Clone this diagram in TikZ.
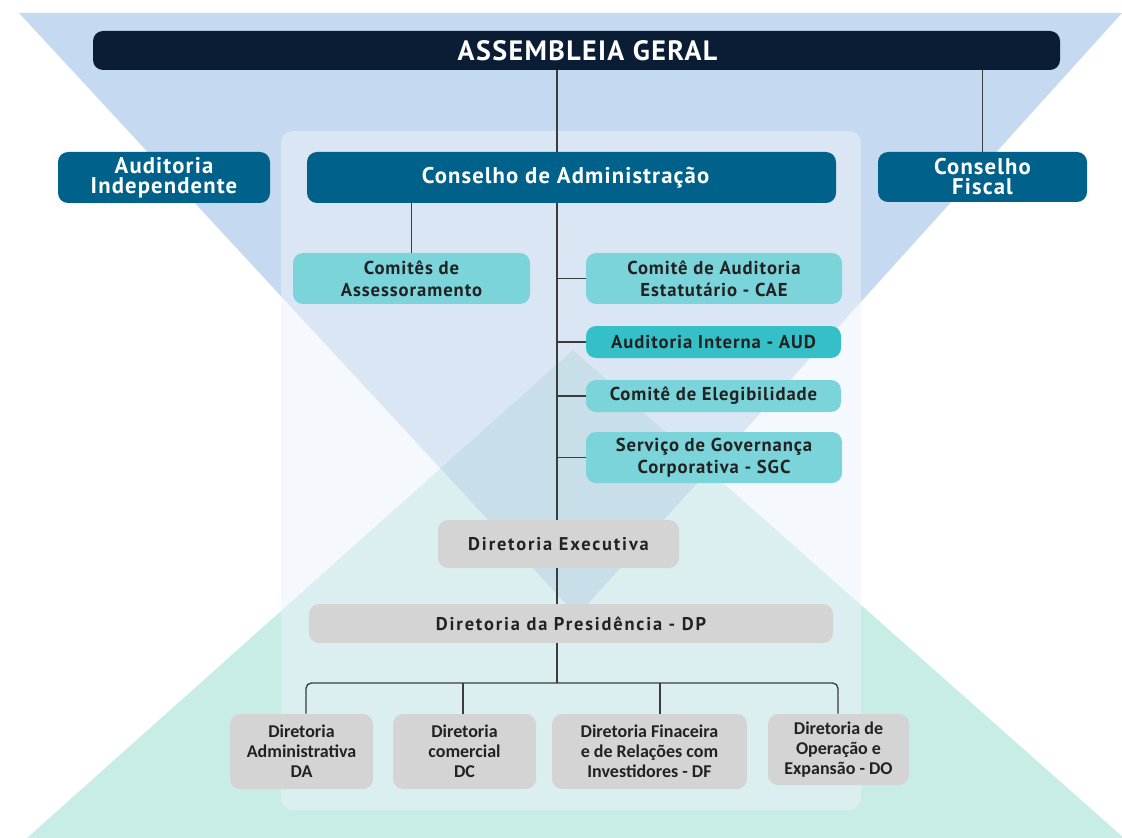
\documentclass[tikz,border=0pt]{standalone}
\usepackage{fontspec}
\setmainfont[LetterSpace=5]{PT Sans}
\newfontfamily\greyfont[LetterSpace=10]{PT Sans}
\newfontfamily\condfont{Carlito}
\definecolor{bgblue}{HTML}{C5D9F0}
\definecolor{bggreen}{HTML}{C8EDE6}
\definecolor{overlapc}{HTML}{C8DFEA}
\definecolor{panelc}{HTML}{EDF2F9}
\definecolor{navy}{HTML}{0B1D35}
\definecolor{deepteal}{HTML}{00628B}
\definecolor{lightteal}{HTML}{7AD4DA}
\definecolor{midteal}{HTML}{35C0C7}
\definecolor{graybox}{HTML}{D4D4D4}
\definecolor{darktext}{HTML}{222222}
\definecolor{linec}{HTML}{3C3C3C}
\tikzset{
  box/.style={rounded corners=7.5pt, inner sep=0pt, align=center, draw=none},
  navybox/.style={box, fill=navy, text=white, font=\fontsize{21pt}{21pt}\selectfont\bfseries},
  bluebox/.style={box, fill=deepteal, text=white, font=\fontsize{17pt}{15pt}\selectfont\bfseries},
  tealbox/.style={box, fill=lightteal, text=darktext, font=\fontsize{14pt}{16.5pt}\selectfont\bfseries},
  audbox/.style={box, fill=midteal, text=darktext, font=\fontsize{14pt}{16.5pt}\selectfont\bfseries},
  greybox/.style={box, fill=graybox, text=darktext, font=\greyfont\fontsize{13.8pt}{16.5pt}\selectfont\bfseries},
  smallgrey/.style={box, fill=graybox, text=darktext, font=\condfont\fontsize{13.5pt}{15pt}\selectfont\bfseries},
  conn/.style={draw=linec, line width=1pt}
}
\begin{document}
\begin{tikzpicture}[x=0.75pt,y=-0.75pt]
\useasboundingbox (0,0) rectangle (1122,838);
\begin{scope}
\clip (0,0) rectangle (1122,838);
\fill[bgblue] (19,13) -- (1122,13) -- (577,616) -- cycle;
\fill[bggreen] (573,350) -- (1124,838) -- (27,838) -- cycle;
\fill[panelc, fill opacity=0.55, rounded corners=9pt] (281,131) rectangle (861,810);
\begin{scope}
\clip (19,13) -- (1122,13) -- (577,616) -- cycle;
\fill[overlapc] (573,350) -- (1124,838) -- (27,838) -- cycle;
\end{scope}
\end{scope}

\coordinate (spine) at (557,0);
\coordinate (xa) at (306,0);
\coordinate (xc) at (463,0);
\coordinate (xf) at (660,0);
\coordinate (xo) at (838,0);
\coordinate (bus) at (557,683);

\node[navybox, minimum width=725.25pt, minimum height=29.25pt] (ag) at (576.5,50.5) {\hspace*{16.5pt}ASSEMBLEIA GERAL};
\node[bluebox, minimum width=159pt, minimum height=38.25pt] (ai) at (164,177.5) {Auditoria\\Independente};
\node[bluebox, minimum width=396.75pt, minimum height=38.25pt] (ca) at (571.5,177.5) {Conselho de Administração\hspace*{9pt}};
\node[bluebox, minimum width=156.75pt, minimum height=37.5pt] (cf) at (982.5,177) {Conselho\\Fiscal};

\node[tealbox, minimum width=177.75pt, minimum height=38.25pt] (cas) at (411.5,278.5) {Comitês de\\Assessoramento};
\node[tealbox, minimum width=192pt, minimum height=38.25pt] (cae) at (714,278.5) {Comitê de Auditoria\\Estatutário - CAE};
\node[audbox, minimum width=191.25pt, minimum height=24pt] (aud) at (713.5,342) {Auditoria Interna - AUD};
\node[tealbox, minimum width=191.25pt, minimum height=24pt] (ce) at (713.5,396) {Comitê de Elegibilidade};
\node[tealbox, minimum width=192pt, minimum height=38.25pt] (sgc) at (714,457.5) {Serviço de Governança\\Corporativa - SGC};

\node[greybox, minimum width=180.75pt, minimum height=36pt] (de) at (558.5,544) {Diretoria Executiva};
\node[greybox, minimum width=393pt, minimum height=29.25pt] (dp) at (571,623.5) {Diretoria da Presidência - DP};

\node[smallgrey, minimum width=107.25pt, minimum height=56.25pt] (da) at (301.5,751.5) {Diretoria\\Administrativa\\DA};
\node[smallgrey, minimum width=107.25pt, minimum height=56.25pt] (dc) at (464.5,751.5) {Diretoria\\comercial\\DC};
\node[smallgrey, minimum width=146.25pt, minimum height=56.25pt] (df) at (649.5,751.5) {Diretoria Finaceira\\e de Relações com\\Investidores - DF};
\node[smallgrey, minimum width=105.75pt, minimum height=53.25pt] (ddo) at (838.5,749.5) {Diretoria de\\Operação e\\Expansão - DO};

\draw[conn] (ag.south -| spine) -- (ca.north -| spine);
\draw[conn] (ag.south -| cf.north) -- (cf.north);
\draw[conn] (ca.south -| cas.north) -- (cas.north);
\draw[conn] (ca.south -| spine) -- (de.north -| spine);
\draw[conn] (cae.west -| spine) -- (cae.west);
\draw[conn] (aud.west -| spine) -- (aud.west);
\draw[conn] (ce.west -| spine) -- (ce.west);
\draw[conn] (sgc.west -| spine) -- (sgc.west);
\draw[conn] (de.south -| spine) -- (dp.north -| spine);
\draw[conn] (dp.south -| spine) -- (bus);
\draw[conn, rounded corners=4pt] (da.north -| xa) |- (bus -| xo) -- (ddo.north -| xo);
\draw[conn] (bus -| xc) -- (dc.north -| xc);
\draw[conn] (bus -| xf) -- (df.north -| xf);
\end{tikzpicture}
\end{document}
